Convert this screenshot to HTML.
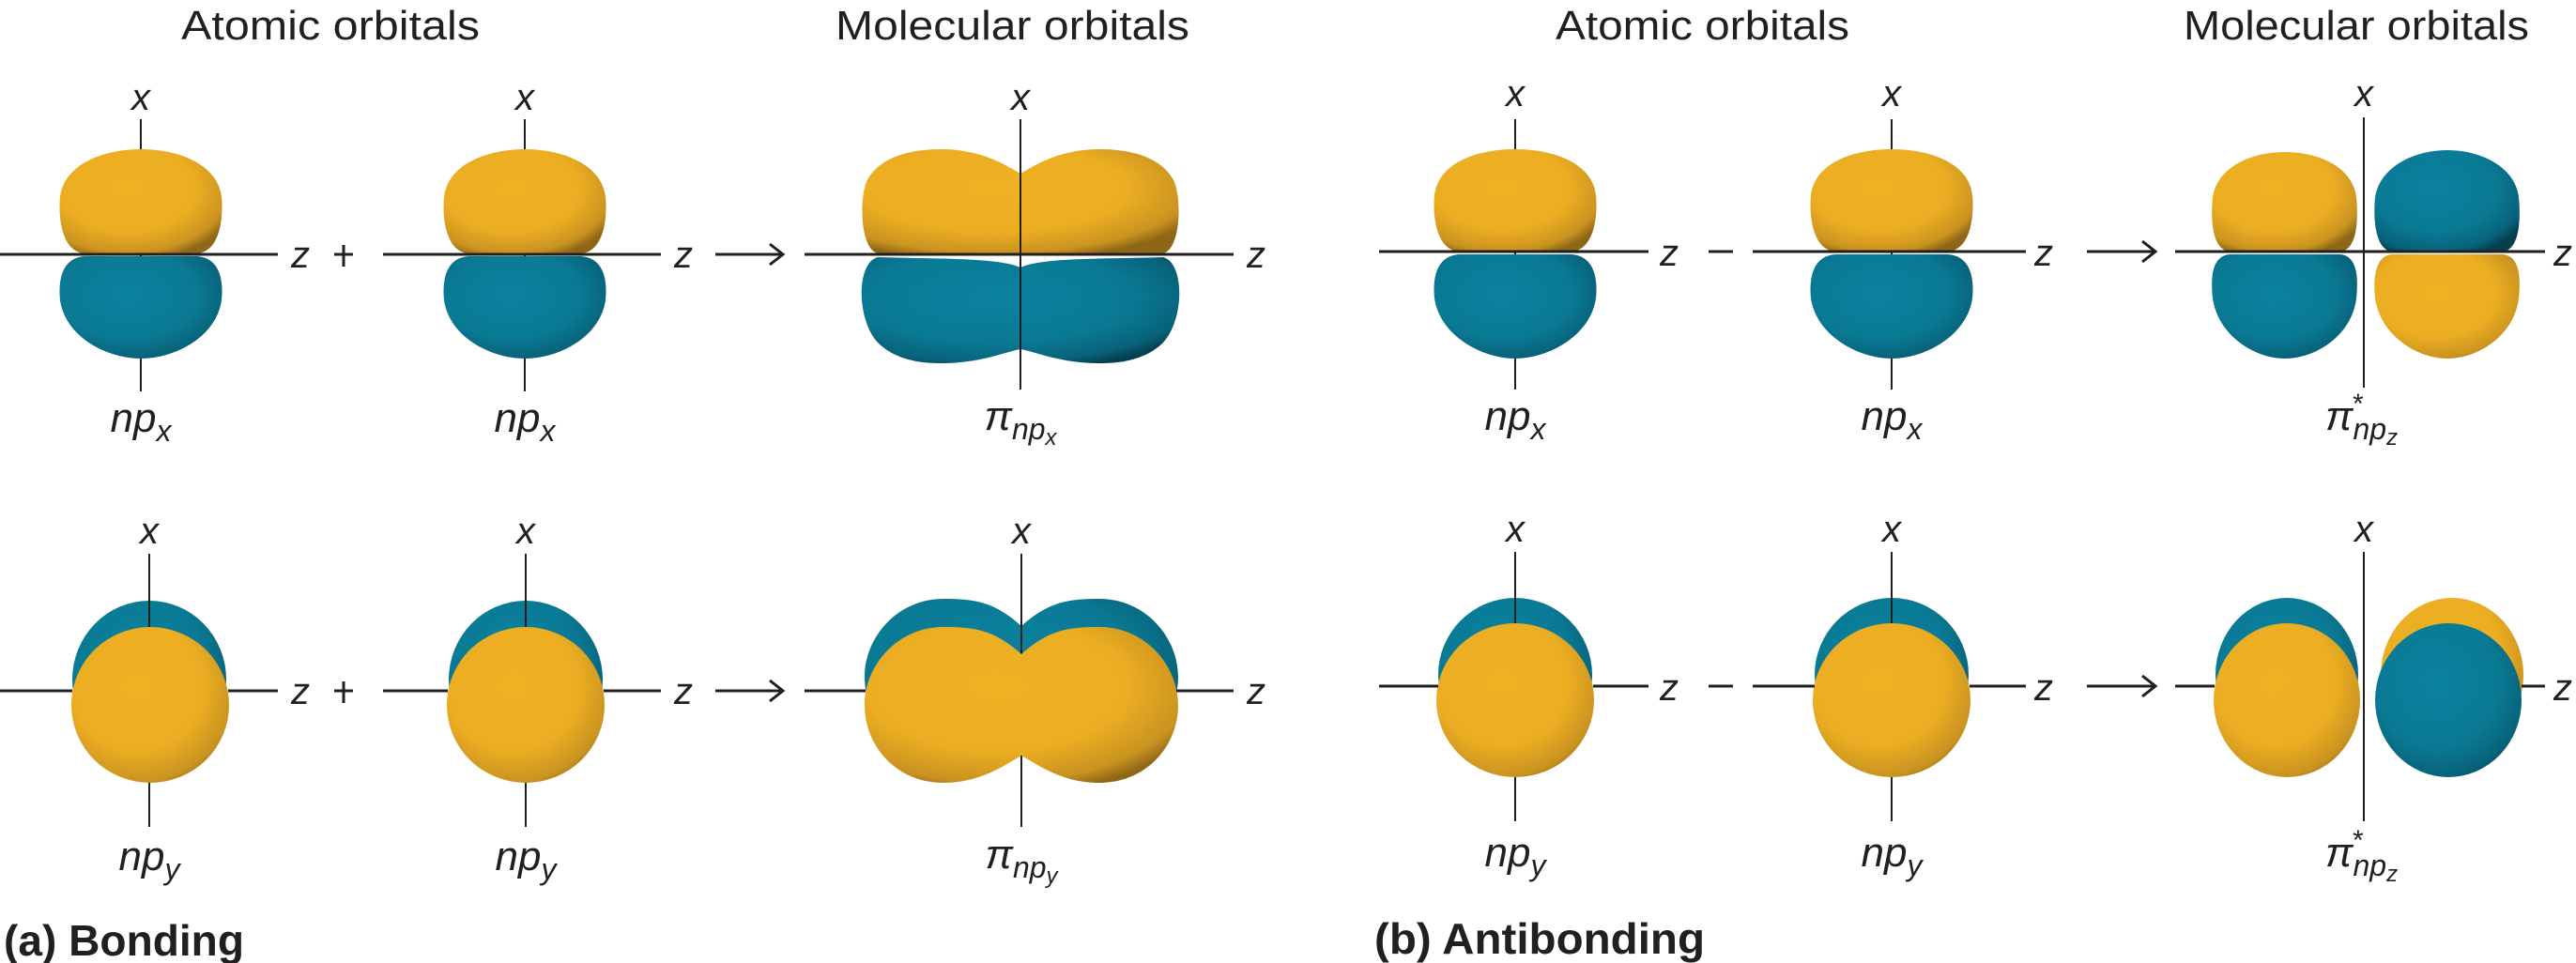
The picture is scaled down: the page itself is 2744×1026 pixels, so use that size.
<!DOCTYPE html>
<html><head><meta charset="utf-8"><style>
html,body{margin:0;padding:0;background:#fff;}
svg{display:block;}
text{font-family:"Liberation Sans",sans-serif;fill:#231F20;}
.t{font-size:44px;}
.i{font-style:italic;font-size:40px;}
.l{font-style:italic;font-size:44px;}
.b{font-weight:bold;font-size:46px;}
</style></head><body>
<svg width="2744" height="1026" viewBox="0 0 2744 1026" xmlns="http://www.w3.org/2000/svg">
<defs>
<radialGradient id="Y" cx="0.42" cy="0.38" r="0.7">
<stop offset="0" stop-color="#F0B223"/><stop offset="0.6" stop-color="#EBAD22"/><stop offset="0.88" stop-color="#C99320"/><stop offset="1" stop-color="#8E6617"/></radialGradient>
<radialGradient id="T" cx="0.42" cy="0.38" r="0.7">
<stop offset="0" stop-color="#0B82A0"/><stop offset="0.6" stop-color="#0A7A94"/><stop offset="0.88" stop-color="#08627A"/><stop offset="1" stop-color="#053F50"/></radialGradient>
</defs>
<text class="t" x="193" y="42" textLength="318" lengthAdjust="spacingAndGlyphs">Atomic orbitals</text>
<text class="t" x="890" y="42" textLength="377" lengthAdjust="spacingAndGlyphs">Molecular orbitals</text>
<text class="t" x="1657" y="42" textLength="313" lengthAdjust="spacingAndGlyphs">Atomic orbitals</text>
<text class="t" x="2326" y="42" textLength="368" lengthAdjust="spacingAndGlyphs">Molecular orbitals</text>

<!-- ===== TOP LEFT ===== -->
<g stroke="#231F20" stroke-width="2">
<line x1="150" y1="127" x2="150" y2="417"/><line x1="559" y1="127" x2="559" y2="417"/>
<line x1="1614" y1="127" x2="1614" y2="415"/><line x1="2015" y1="127" x2="2015" y2="415"/>
</g>
<path fill="url(#Y)" d="M90,270 C65,268 62,230 64,210 C68,175 110,159 150,159 C190,159 232,175 236,210 C238,230 235,268 210,270 Z"/>
<path fill="url(#T)" d="M90,273 C65,275 62,300 64,320 C70,360 115,382 150,382 C185,382 230,360 236,320 C238,300 235,275 210,273 Z"/>
<path fill="url(#Y)" d="M499,270 C474,268 471,230 473,210 C477,175 519,159 559,159 C599,159 641,175 645,210 C647,230 644,268 619,270 Z"/>
<path fill="url(#T)" d="M499,273 C474,275 471,300 473,320 C479,360 524,382 559,382 C594,382 639,360 645,320 C647,300 644,275 619,273 Z"/>
<path fill="url(#Y)" d="M935,270 C915,265 915,205 925,190 C940,165 975,159 1002,159 C1045,159 1070,175 1087,185 C1104,175 1129,159 1172,159 C1199,159 1234,165 1249,190 C1259,205 1259,265 1239,270 Z"/>
<path fill="url(#T)" d="M935,274 C912,280 912,340 935,365 C955,385 985,387 1002,387 C1045,387 1070,375 1087,372 C1104,375 1129,387 1172,387 C1189,387 1219,385 1239,365 C1262,340 1262,280 1239,274 C1180,276 1110,274 1087,285 C1064,274 994,276 935,274 Z"/>
<g stroke="#231F20">
<line x1="0" y1="271" x2="296" y2="271" stroke-width="3"/>
<line x1="408" y1="271" x2="704" y2="271" stroke-width="3"/>
<line x1="857" y1="271" x2="1314" y2="271" stroke-width="3"/>
<line x1="1087" y1="127" x2="1087" y2="415" stroke-width="2"/>
<line x1="762" y1="271" x2="832" y2="271" stroke-width="3"/>
<polyline points="820,260 834,271 820,282" fill="none" stroke-width="3"/>
<line x1="356" y1="271" x2="376" y2="271" stroke-width="3"/><line x1="366" y1="261" x2="366" y2="284" stroke-width="3"/>
</g>
<text class="i" x="150" y="117" text-anchor="middle">x</text>
<text class="i" x="559" y="117" text-anchor="middle">x</text>
<text class="i" x="1087" y="117" text-anchor="middle">x</text>
<text class="i" x="310" y="285">z</text><text class="i" x="718" y="285">z</text><text class="i" x="1328" y="285">z</text>
<text class="l" x="150" y="460" text-anchor="middle">np<tspan font-size="32" dy="10">x</tspan></text>
<text class="l" x="559" y="460" text-anchor="middle">np<tspan font-size="32" dy="10">x</tspan></text>
<text class="l" x="1087" y="458" text-anchor="middle">π<tspan font-size="32" dy="10">np</tspan><tspan font-size="24" dy="6">x</tspan></text>

<!-- ===== TOP RIGHT ===== -->
<path fill="url(#Y)" d="M1554,268 C1529,266 1526,228 1528,208 C1532,173 1574,159 1614,159 C1654,159 1696,173 1700,208 C1702,228 1699,266 1674,268 Z"/>
<path fill="url(#T)" d="M1554,271 C1529,273 1526,298 1528,318 C1534,358 1579,382 1614,382 C1649,382 1694,358 1700,318 C1702,298 1699,273 1674,271 Z"/>
<path fill="url(#Y)" d="M1955,268 C1930,266 1927,228 1929,208 C1933,173 1975,159 2015,159 C2055,159 2097,173 2101,208 C2103,228 2100,266 2075,268 Z"/>
<path fill="url(#T)" d="M1955,271 C1930,273 1927,298 1929,318 C1935,358 1980,382 2015,382 C2050,382 2095,358 2101,318 C2103,298 2100,273 2075,271 Z"/>
<path fill="url(#Y)" d="M2375,268 C2355,266 2355,230 2357,210 C2362,178 2398,162 2434,162 C2470,162 2506,178 2510,210 C2512,230 2512,266 2493,268 Z"/>
<path fill="url(#T)" d="M2375,271 C2355,273 2355,298 2357,318 C2363,358 2402,382 2434,382 C2466,382 2505,358 2510,318 C2512,298 2512,273 2493,271 Z"/>
<path fill="url(#T)" d="M2548,268 C2529,266 2528,230 2530,210 C2535,178 2571,160 2607,160 C2643,160 2679,178 2683,210 C2685,230 2685,266 2666,268 Z"/>
<path fill="url(#Y)" d="M2548,271 C2529,273 2528,298 2530,318 C2536,358 2575,382 2607,382 C2639,382 2678,358 2683,318 C2685,298 2685,273 2666,271 Z"/>
<g stroke="#231F20">
<line x1="1469" y1="268" x2="1756" y2="268" stroke-width="3"/>
<line x1="1867" y1="268" x2="2158" y2="268" stroke-width="3"/>
<line x1="2317" y1="268" x2="2711" y2="268" stroke-width="3"/>
<line x1="2518" y1="125" x2="2518" y2="413" stroke-width="2"/>
<line x1="2223" y1="268" x2="2294" y2="268" stroke-width="3"/>
<polyline points="2282,257 2296,268 2282,279" fill="none" stroke-width="3"/>
<line x1="1820" y1="268" x2="1846" y2="268" stroke-width="3"/>
</g>
<text class="i" x="1614" y="113" text-anchor="middle">x</text>
<text class="i" x="2015" y="113" text-anchor="middle">x</text>
<text class="i" x="2518" y="113" text-anchor="middle">x</text>
<text class="i" x="1768" y="283">z</text><text class="i" x="2167" y="283">z</text><text class="i" x="2720" y="283">z</text>
<text class="l" x="1614" y="458" text-anchor="middle">np<tspan font-size="32" dy="10">x</tspan></text>
<text class="l" x="2015" y="458" text-anchor="middle">np<tspan font-size="32" dy="10">x</tspan></text>
<text class="l" x="2477" y="458">π<tspan font-size="32" dy="10">np</tspan><tspan font-size="24" dy="6">z</tspan></text>
<text x="2506" y="440" font-size="30">*</text>

<!-- ===== BOTTOM LEFT ===== -->
<ellipse cx="159" cy="724" rx="82" ry="84" fill="url(#T)"/>
<ellipse cx="560" cy="724" rx="82" ry="84" fill="url(#T)"/>
<path fill="url(#T)" d="M1088,667 C1060,642 1040,638 1005,638 C955,638 921,680 921,721 C921,765 955,804 1005,804 L1171,804 C1221,804 1255,765 1255,721 C1255,680 1221,638 1171,638 C1136,638 1116,642 1088,667 Z"/>
<g stroke="#231F20" stroke-width="2">
<line x1="159" y1="590" x2="159" y2="881"/><line x1="560" y1="590" x2="560" y2="881"/><line x1="1088" y1="590" x2="1088" y2="881"/>
</g>
<ellipse cx="160" cy="751" rx="84" ry="83" fill="url(#Y)"/>
<ellipse cx="560" cy="751" rx="84" ry="83" fill="url(#Y)"/>
<path fill="url(#Y)" d="M1088,697 C1060,672 1040,668 1005,668 C955,668 921,710 921,751 C921,795 955,834 1005,834 C1045,834 1070,815 1088,805 C1106,815 1131,834 1171,834 C1221,834 1255,795 1255,751 C1255,710 1221,668 1171,668 C1136,668 1116,672 1088,697 Z"/>
<g stroke="#231F20" stroke-width="2">
<line x1="159" y1="834" x2="159" y2="881"/><line x1="560" y1="834" x2="560" y2="881"/><line x1="1088" y1="805" x2="1088" y2="881"/>
</g>
<g stroke="#231F20" stroke-width="3">
<line x1="0" y1="736" x2="77" y2="736"/><line x1="243" y1="736" x2="296" y2="736"/>
<line x1="408" y1="736" x2="477" y2="736"/><line x1="643" y1="736" x2="704" y2="736"/>
<line x1="857" y1="736" x2="922" y2="736"/><line x1="1253" y1="736" x2="1314" y2="736"/>
<line x1="762" y1="736" x2="832" y2="736"/>
<polyline points="820,725 834,736 820,747" fill="none"/>
<line x1="356" y1="736" x2="376" y2="736"/><line x1="366" y1="726" x2="366" y2="749"/>
</g>
<text class="i" x="159" y="579" text-anchor="middle">x</text>
<text class="i" x="560" y="579" text-anchor="middle">x</text>
<text class="i" x="1088" y="579" text-anchor="middle">x</text>
<text class="i" x="310" y="750">z</text><text class="i" x="718" y="750">z</text><text class="i" x="1328" y="750">z</text>
<text class="l" x="159" y="927" text-anchor="middle">np<tspan font-size="32" dy="10">y</tspan></text>
<text class="l" x="560" y="927" text-anchor="middle">np<tspan font-size="32" dy="10">y</tspan></text>
<text class="l" x="1088" y="925" text-anchor="middle">π<tspan font-size="32" dy="10">np</tspan><tspan font-size="24" dy="6">y</tspan></text>
<text class="b" x="4" y="1018" textLength="256" lengthAdjust="spacingAndGlyphs">(a) Bonding</text>

<!-- ===== BOTTOM RIGHT ===== -->
<ellipse cx="1614" cy="719" rx="82" ry="82" fill="url(#T)"/>
<ellipse cx="2015" cy="719" rx="82" ry="82" fill="url(#T)"/>
<ellipse cx="2436" cy="719" rx="76" ry="82" fill="url(#T)"/>
<ellipse cx="2612" cy="719" rx="76" ry="82" fill="url(#Y)"/>
<g stroke="#231F20" stroke-width="2">
<line x1="1614" y1="588" x2="1614" y2="875"/><line x1="2015" y1="588" x2="2015" y2="875"/>
</g>
<ellipse cx="1614" cy="746" rx="84" ry="82" fill="url(#Y)"/>
<ellipse cx="2015" cy="746" rx="84" ry="82" fill="url(#Y)"/>
<ellipse cx="2436" cy="746" rx="78" ry="82" fill="url(#Y)"/>
<ellipse cx="2608" cy="746" rx="78" ry="82" fill="url(#T)"/>
<g stroke="#231F20" stroke-width="2">
<line x1="1614" y1="828" x2="1614" y2="875"/><line x1="2015" y1="828" x2="2015" y2="875"/>
<line x1="2518" y1="588" x2="2518" y2="875"/>
</g>
<g stroke="#231F20" stroke-width="3">
<line x1="1469" y1="731" x2="1532" y2="731"/><line x1="1697" y1="731" x2="1756" y2="731"/>
<line x1="1867" y1="731" x2="1933" y2="731"/><line x1="2098" y1="731" x2="2158" y2="731"/>
<line x1="2317" y1="731" x2="2359" y2="731"/><line x1="2686" y1="731" x2="2711" y2="731"/>
<line x1="2223" y1="731" x2="2294" y2="731"/>
<polyline points="2282,720 2296,731 2282,742" fill="none"/>
<line x1="1820" y1="731" x2="1846" y2="731"/>
</g>
<text class="i" x="1614" y="577" text-anchor="middle">x</text>
<text class="i" x="2015" y="577" text-anchor="middle">x</text>
<text class="i" x="2518" y="577" text-anchor="middle">x</text>
<text class="i" x="1768" y="746">z</text><text class="i" x="2167" y="746">z</text><text class="i" x="2720" y="746">z</text>
<text class="l" x="1614" y="923" text-anchor="middle">np<tspan font-size="32" dy="10">y</tspan></text>
<text class="l" x="2015" y="923" text-anchor="middle">np<tspan font-size="32" dy="10">y</tspan></text>
<text class="l" x="2477" y="923">π<tspan font-size="32" dy="10">np</tspan><tspan font-size="24" dy="6">z</tspan></text>
<text x="2506" y="905" font-size="30">*</text>
<text class="b" x="1464" y="1016" textLength="352" lengthAdjust="spacingAndGlyphs">(b) Antibonding</text>
</svg>
</body></html>
